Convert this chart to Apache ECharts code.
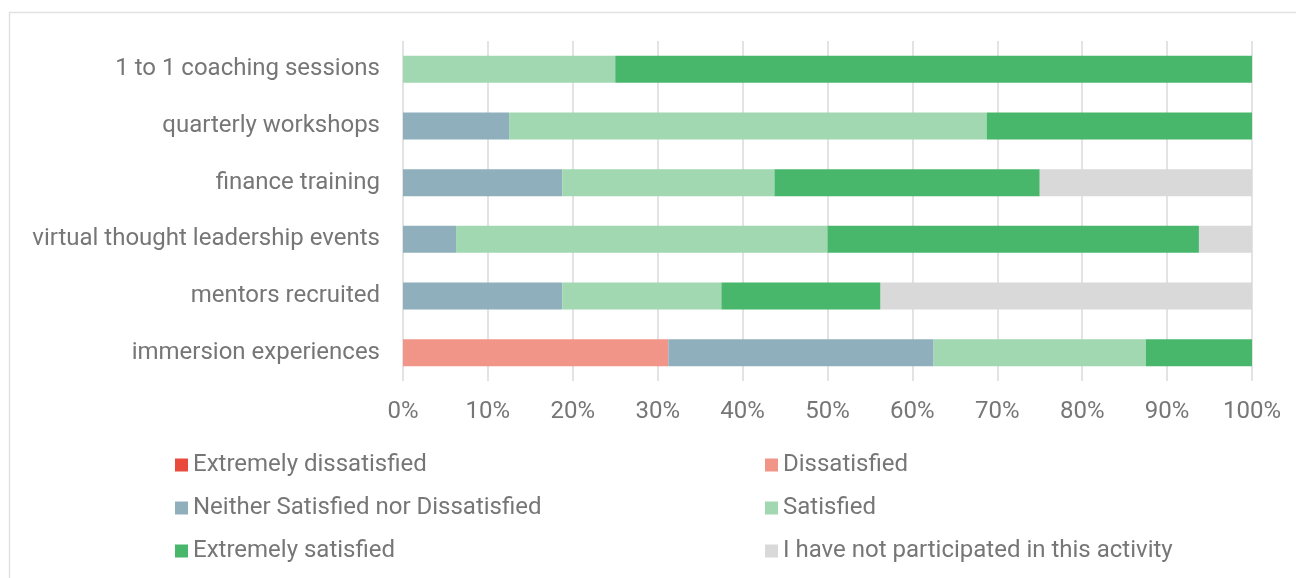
<!DOCTYPE html>
<html>
<head>
<meta charset="utf-8">
<style>
  html, body { margin: 0; padding: 0; background: #ffffff; }
  #chart { width: 1296px; height: 578px; }
</style>
<script src="https://cdn.jsdelivr.net/npm/echarts@6/dist/echarts.min.js"></script>
</head>
<body>
<div id="chart"></div>
<script>
// Activities, listed top to bottom
const activities = [
  '1 to 1 coaching sessions',
  'quarterly workshops',
  'finance training',
  'virtual thought leadership events',
  'mentors recruited',
  'immersion experiences'
];

// Share of respondents (%) per activity, one array per response
const extremelyDissatisfied = [0, 0, 0, 0, 0, 0];
const dissatisfied          = [0, 0, 0, 0, 0, 31.25];
const neither               = [0, 12.5, 18.75, 6.25, 18.75, 31.25];
const satisfied             = [25, 56.25, 25, 43.75, 18.75, 25];
const extremelySatisfied    = [75, 31.25, 31.25, 43.75, 18.75, 12.5];
const notParticipated       = [0, 0, 25, 6.25, 43.75, 0];

const responseNames = [
  'Extremely dissatisfied',
  'Dissatisfied',
  'Neither Satisfied nor Dissatisfied',
  'Satisfied',
  'Extremely satisfied',
  'I have not participated in this activity'
];
const responseValues = [
  extremelyDissatisfied, dissatisfied, neither,
  satisfied, extremelySatisfied, notParticipated
];
const responseColors = ['#e84b3c', '#f19588', '#8eafbb', '#a1d8b1', '#48b76b', '#d9d9d9'];

const labelColor = '#767676';
const fontFamily = 'Roboto, "Noto Sans", sans-serif';

const chart = echarts.init(document.getElementById('chart'));

const legendCommon = {
  orient: 'vertical',
  top: 446,
  itemWidth: 13,
  itemHeight: 13,
  itemGap: 15,
  icon: 'rect',
  selectedMode: false,
  textStyle: { color: labelColor, fontSize: 24, fontFamily: fontFamily, lineHeight: 28 }
};

chart.setOption({
  animation: false,
  graphic: [{
    type: 'rect',
    shape: { x: 9.5, y: 12.5, width: 1400, height: 700 },
    style: { fill: null, stroke: '#e2e2e2', lineWidth: 1.5 },
    silent: true,
    z: -10
  }],
  grid: { left: 403, right: 44, top: 41, bottom: 197, containLabel: false },
  legend: [
    Object.assign({}, legendCommon, {
      left: 170,
      data: [responseNames[0], responseNames[2], responseNames[4]]
    }),
    Object.assign({}, legendCommon, {
      left: 760,
      data: [responseNames[1], responseNames[3], responseNames[5]]
    })
  ],
  xAxis: {
    type: 'value',
    min: 0,
    max: 100,
    interval: 10,
    axisLine: { show: false },
    axisTick: { show: false },
    axisLabel: {
      formatter: '{value}%',
      color: labelColor,
      fontSize: 24,
      fontFamily: fontFamily,
      margin: 19
    },
    splitLine: { show: true, lineStyle: { color: '#e3e3e3', width: 2 } }
  },
  yAxis: {
    type: 'category',
    inverse: true,
    data: activities,
    axisLine: { show: false },
    axisTick: { show: false },
    axisLabel: {
      color: labelColor,
      fontSize: 24,
      fontFamily: fontFamily,
      margin: 23,
      padding: [6, 0, 0, 0]
    },
    splitLine: { show: false }
  },
  series: responseNames.map((name, i) => ({
    name: name,
    type: 'bar',
    stack: 'total',
    barWidth: 27,
    itemStyle: { color: responseColors[i] },
    emphasis: { disabled: true },
    data: responseValues[i]
  }))
});
</script>
</body>
</html>
